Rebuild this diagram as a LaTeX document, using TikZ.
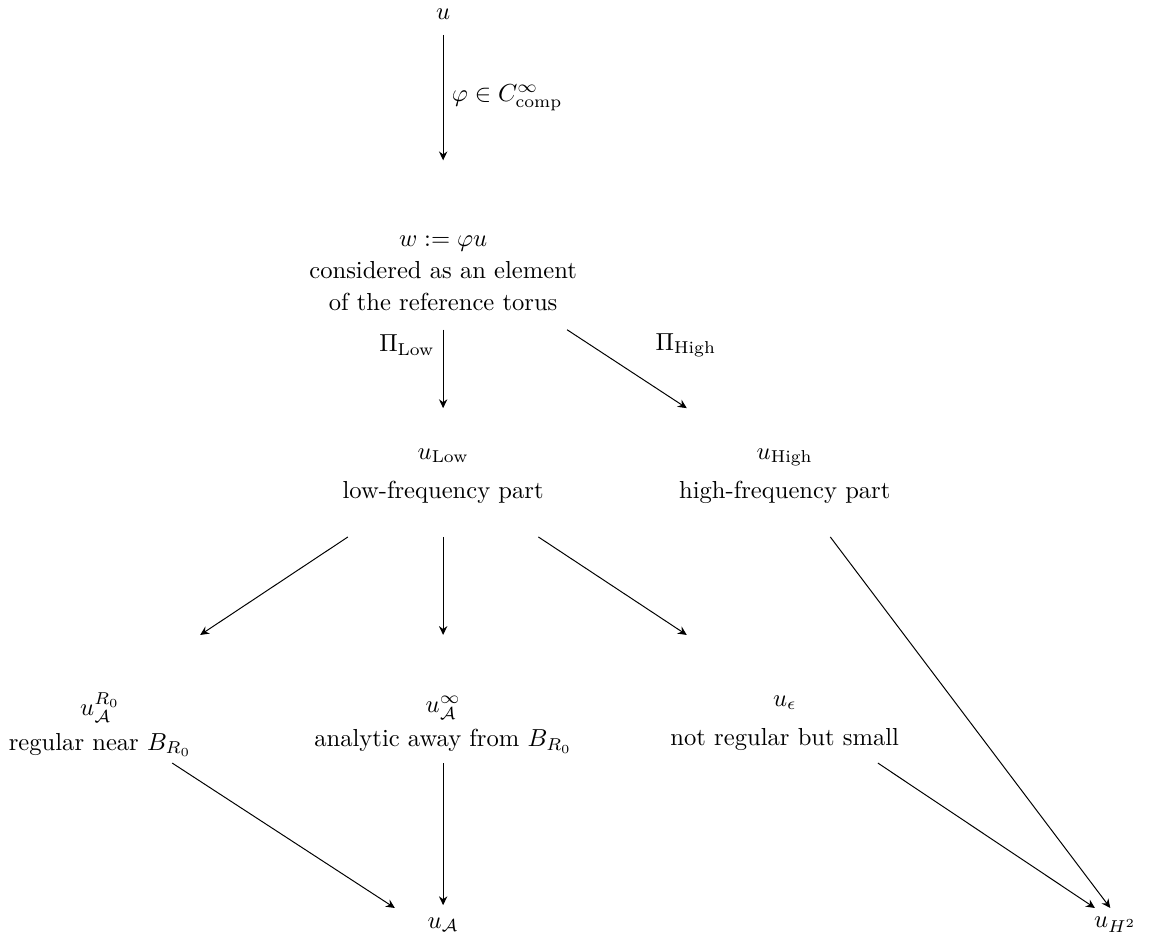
\documentclass[tikz,border=0pt]{standalone}
\usepackage{amsmath}
\usepackage{amssymb}
\usetikzlibrary{arrows.meta}

\begin{document}
\begin{tikzpicture}[every node/.style={align=center}, >={Stealth[length=3.6pt, width=3.4pt, inset=1.2pt]}]
    \useasboundingbox (0, 0) rectangle (16.47, -13.4);

    % --- Top: u and its cut-off
    \node (u) at (6.33, -0.21) {$u$};
    \node (w) at (6.33, -3.91) {$w := \varphi u$\\[1pt] considered as an element\\[1pt] of the reference torus};

    % Arrow ends (free coordinates)
    \coordinate (uS) at (6.33, -0.5);
    \coordinate (wN) at (6.33, -2.29);
    \coordinate (wS) at (6.33, -4.71);
    \coordinate (wSE) at (8.10, -4.71);
    \coordinate (lowN) at (6.33, -5.83);
    \coordinate (highN) at (9.81, -5.83);

    \draw[->] (uS) -- (wN) node[midway, right] {$\varphi \in C^\infty_{\text{comp}}$};

    % --- Projections
    \draw[->] (wS) -- (lowN) node[pos=0.2, left] {$\Pi_{\text{Low}}$};
    \draw[->] (wSE) -- (highN) node[pos=0.2, right=0.8cm] {$\Pi_{\text{High}}$};

    \node (low) at (6.33, -6.8) {$u_{\text{Low}}$\\[4pt] low-frequency part};
    \node (high) at (11.21, -6.8) {$u_{\text{High}}$\\[4pt] high-frequency part};

    % --- Splitting of the low-frequency part
    \node (reg) at (1.43, -10.35) {$u_{\mathcal{A}}^{R_0}$\\[2pt] regular near $B_{R_0}$};
    \node (ana) at (6.33, -10.35) {$u_{\mathcal{A}}^{\infty}$\\[2pt] analytic away from $B_{R_0}$};
    \node (eps) at (11.21, -10.33) {$u_{\epsilon}$\\[4pt] not regular but small};

    \coordinate (lowSW) at (4.97, -7.67);
    \coordinate (lowS) at (6.33, -7.67);
    \coordinate (lowSE) at (7.69, -7.67);
    \coordinate (regN) at (2.86, -9.07);
    \coordinate (anaN) at (6.33, -9.07);
    \coordinate (epsN) at (9.81, -9.07);
    \coordinate (highS) at (11.86, -7.67);

    \draw[->] (lowSW) -- (regN);
    \draw[->] (lowS) -- (anaN);
    \draw[->] (lowSE) -- (epsN);

    % --- Bottom row
    \node (uA) at (6.33, -13.21) {$u_{\mathcal{A}}$};
    \node (uH) at (15.93, -13.21) {$u_{H^2}$};

    \coordinate (regS) at (2.46, -10.90);
    \coordinate (anaS) at (6.33, -10.90);
    \coordinate (epsS) at (12.54, -10.90);
    \coordinate (uAN) at (5.64, -12.97);
    \coordinate (uANN) at (6.33, -12.93);
    \coordinate (uHNW) at (15.64, -12.97);
    \coordinate (uHN) at (15.86, -12.97);

    \draw[->] (regS) -- (uAN);
    \draw[->] (anaS) -- (uANN);
    \draw[->] (epsS) -- (uHNW);
    \draw[->] (highS) -- (uHN);
\end{tikzpicture}
\end{document}
